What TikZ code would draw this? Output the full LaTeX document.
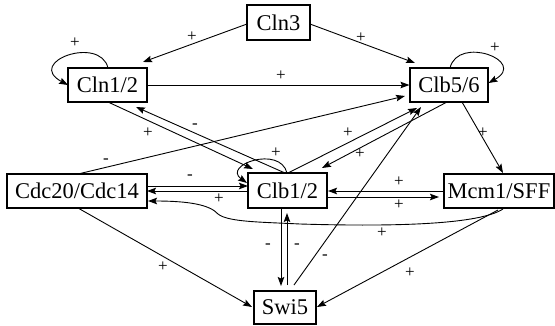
\documentclass[tikz,border=0pt]{standalone}
\usepackage{fontspec}
\setmainfont{Liberation Serif}
\usetikzlibrary{arrows.meta,calc}

\begin{document}
\begin{tikzpicture}[x=1pt,y=-1pt,
  box/.style={draw,line width=1.1pt,inner sep=0pt,font=\fontsize{22.5}{27}\selectfont},
  lab/.style={inner sep=0pt,font=\fontsize{17}{20}\selectfont},
  arr/.style={line width=0.9pt,-{Stealth[length=9pt,width=6.5pt,inset=1.5pt]}}]
\useasboundingbox (0,0) rectangle (555,325);

% proteins
\node[box,minimum width=63pt,minimum height=35pt] (cln3)  at (278.5,22.5) {Cln3};
\node[box,minimum width=79pt,minimum height=34pt] (cln12) at (107.5,85)   {Cln1/2};
\node[box,minimum width=78pt,minimum height=34pt] (clb56) at (449,85)     {Clb5/6};
\node[box,minimum width=140pt,minimum height=34pt] (cdc)  at (77,191)     {Cdc20/Cdc14};
\node[box,minimum width=79pt,minimum height=35pt] (clb12) at (287.5,190.5) {Clb1/2};
\node[box,minimum width=110pt,minimum height=34pt] (mcm)  at (499,191)    {Mcm1/SFF};
\node[box,minimum width=62pt,minimum height=33pt] (swi5)  at (285,307.5)  {Swi5};

% interactions
\draw[arr] ($(cln3)+(-31.5,1.5)$) -- ($(cln12)+(35.5,-23)$);
\draw[arr] ($(cln3)+(31.5,1.5)$) -- ($(clb56)+(-34,-22)$);
\draw[arr] ($(cln12)+(0.5,-17)$) .. controls (100,35) and (25,62) .. ($(cln12)+(-39.5,0)$);
\draw[arr] ($(clb56)+(1,-17)$) .. controls (458,35) and (528,61) .. ($(clb56)+(39.5,-2)$);
\draw[arr] (cln12.east) -- (clb56.west);
\draw[arr] ($(cln12)+(0.5,17)$) -- ($(clb12)+(-34.5,-21.5)$);
\draw[arr] ($(clb12)+(-2.5,-17.5)$) -- ($(cln12)+(28.5,22)$);
\draw[arr] ($(cdc)+(1,-17)$) -- ($(clb56)+(-44,11)$);
\draw[arr] ($(cdc)+(70,-5)$) -- ($(clb12)+(-39.5,-4.5)$);
\draw[arr] ($(clb12)+(-39.5,0.5)$) -- ($(cdc)+(70,0)$);
\draw[arr] ($(clb12)+(-0.5,-17.5)$) .. controls (280,145) and (222,165) .. ($(clb12)+(-40.5,-7.5)$);
\draw[arr] ($(clb12)+(0.5,-17.5)$) -- ($(clb56)+(-32,23)$);
\draw[arr] ($(clb56)+(-2,17)$) -- ($(clb12)+(34.5,-22.5)$);
\draw[arr] ($(swi5)+(9,-22.5)$) -- ($(clb56)+(-28,22)$);
\draw[arr] ($(clb56)+(13,17)$) -- ($(mcm)+(4,-18)$);
\draw[arr] ($(mcm)+(-55,0)$) -- ($(clb12)+(40.5,0.5)$);
\draw[arr] ($(clb12)+(39.5,6.5)$) -- ($(mcm)+(-60,6)$);
\draw[arr] ($(mcm)+(4,18)$) .. controls (480,224) and (400,227) .. (300,224)
  .. controls (260,222) and (228,222) .. (218,214)
  .. controls (210,205) and (190,201) .. ($(cdc)+(71,10)$);
\draw[arr] ($(clb12)+(-6.5,17.5)$) -- ($(swi5)+(-4,-21.5)$);
\draw[arr] ($(swi5)+(2,-22.5)$) -- ($(clb12)+(-0.5,22.5)$);
\draw[arr] ($(cdc)+(1,17)$) -- ($(swi5)+(-33,-0.5)$);
\draw[arr] ($(mcm)+(-1,19)$) -- ($(swi5)+(32,-0.5)$);

% signs of the interactions
\node[lab] (s1)  at (192,37)  {+};
\node[lab] (s2)  at (361,38)  {+};
\node[lab] (s3)  at (75,43)   {+};
\node[lab] (s4)  at (495,48)  {+};
\node[lab] (s5)  at (281,76)  {+};
\node[lab] (s6)  at (148,133) {+};
\node[lab] (s7)  at (195,126) {-};
\node[lab] (s8)  at (106,161) {-};
\node[lab] (s9)  at (190,177) {-};
\node[lab] (s10) at (219,199) {+};
\node[lab] (s11) at (276,153) {+};
\node[lab] (s12) at (348,133) {+};
\node[lab] (s13) at (360,154) {+};
\node[lab] (s14) at (325,257) {-};
\node[lab] (s15) at (483,133) {+};
\node[lab] (s16) at (399,182) {+};
\node[lab] (s17) at (399,205) {+};
\node[lab] (s18) at (382,233) {+};
\node[lab] (s19) at (268,246) {-};
\node[lab] (s20) at (297,246) {-};
\node[lab] (s21) at (163,267) {+};
\node[lab] (s22) at (410,273) {+};
\end{tikzpicture}
\end{document}
